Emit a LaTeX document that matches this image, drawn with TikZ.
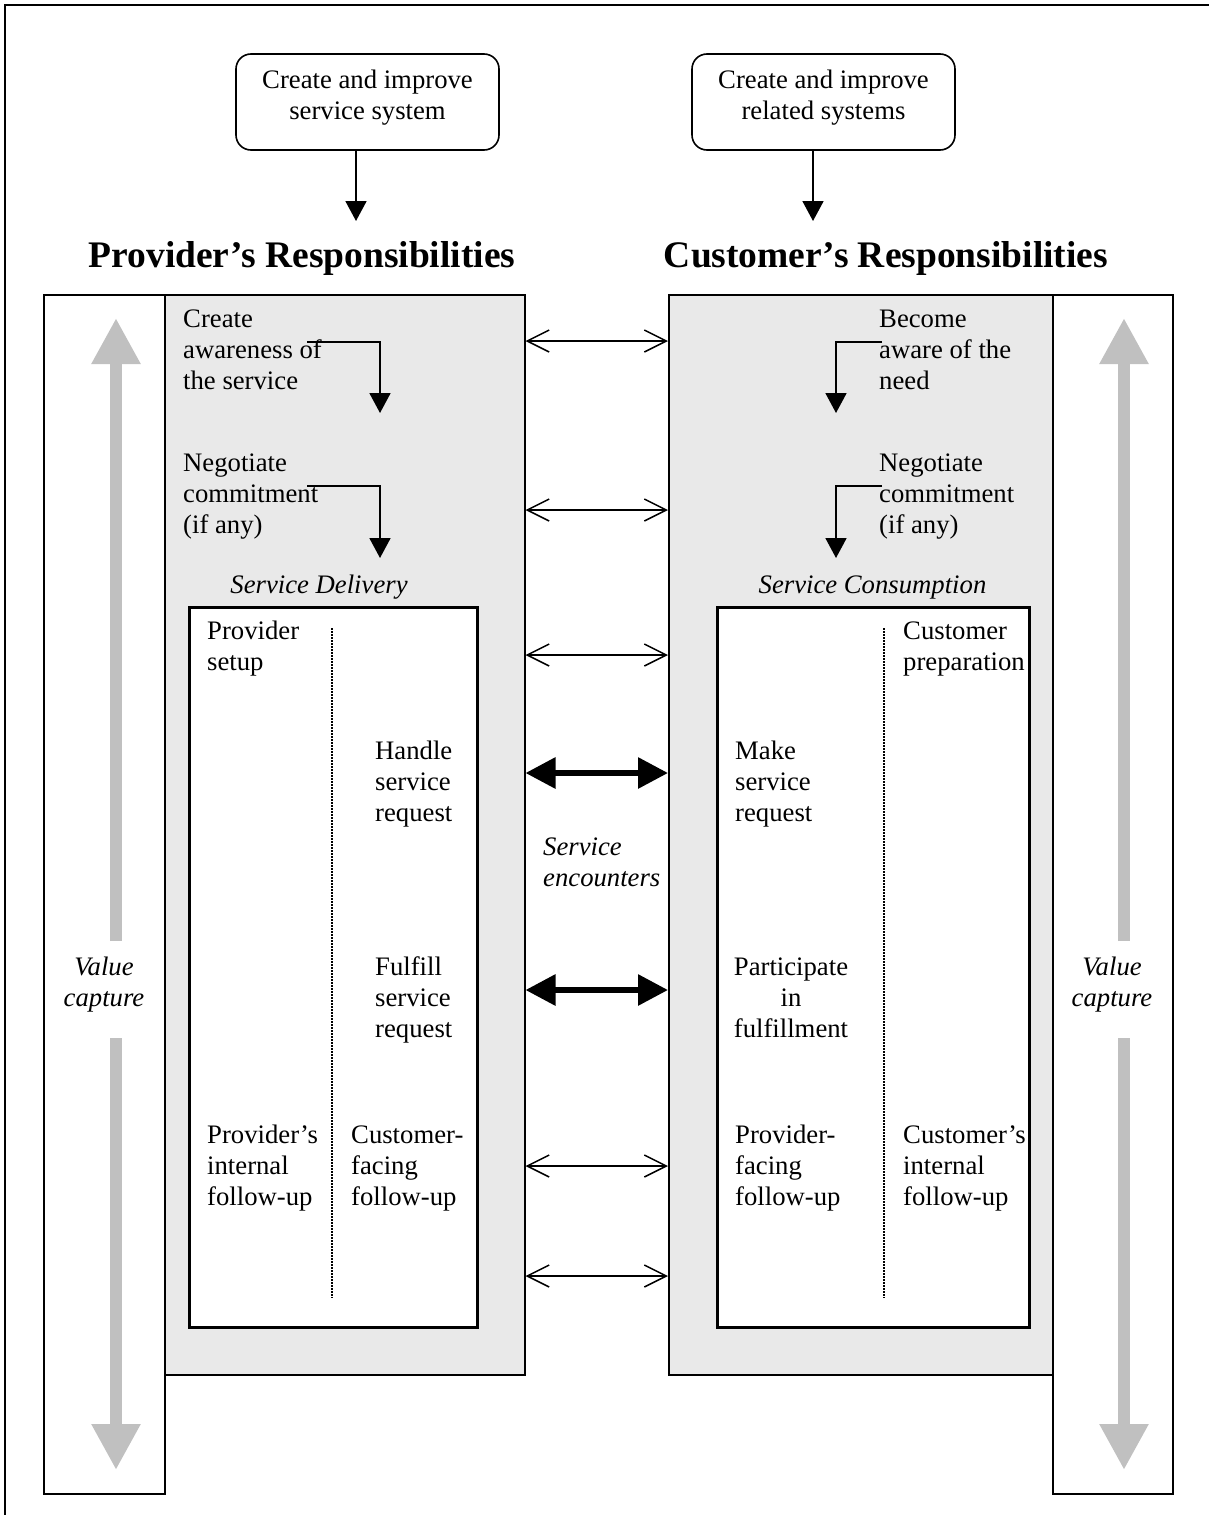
\documentclass[tikz,border=0pt]{standalone}
\usepackage{fontspec}
\setmainfont{Liberation Serif}
\usetikzlibrary{arrows.meta}
\definecolor{panel}{RGB}{233,233,233}
\definecolor{vgray}{RGB}{192,192,192}
\begin{document}
\begin{tikzpicture}[x=1pt,y=-1pt,
  txt/.style={font=\fontsize{26.7}{31}\selectfont, inner sep=0pt, align=left, anchor=north west},
  ctxt/.style={font=\fontsize{26.7}{31}\selectfont, inner sep=0pt, align=center, anchor=north},
  itxt/.style={font=\fontsize{26.7}{31}\selectfont\itshape, inner sep=0pt},
  head/.style={font=\fontsize{37.5}{45}\selectfont\bfseries, inner sep=0pt, anchor=base},
  topbox/.style={draw, line width=1.6pt, rounded corners=15pt, minimum width=263pt, minimum height=96pt, inner sep=0pt},
  panelbox/.style={draw, line width=1.5pt, fill=panel, inner sep=0pt, anchor=north west},
  valbox/.style={draw, line width=1.5pt, fill=white, inner sep=0pt, anchor=north west},
  innerbox/.style={draw, line width=3pt, fill=white, inner sep=0pt, anchor=north west},
  downarr/.style={line width=1.8pt, -{Triangle[length=20pt,width=21pt]}},
  thinarr/.style={line width=1.5pt, {Straight Barb[length=22pt,width=22pt]}-{Straight Barb[length=22pt,width=22pt]}},
  thickarr/.style={line width=6pt, {Triangle[length=30pt,width=30pt]}-{Triangle[length=30pt,width=30pt]}},
  grayarr/.style={line width=12pt, draw=vgray, -{Triangle[length=46pt,width=46pt,fill=vgray]}},
  dotline/.style={line width=1.5pt, dash pattern=on 1.5pt off 1.5pt}
]
\useasboundingbox (0,0) rectangle (1209,1515);
% outer frame
\draw[line width=2.5pt] (5,1530) -- (5,5) -- (1230,5);

% top boxes
\node[topbox] (sys) at (367.5,102) {};
\node[ctxt] (systxt) at (367.5,66.3) {\strut Create and improve\\service system};
\node[topbox] (rel) at (823.5,102) {};
\node[ctxt] (reltxt) at (823.5,66.3) {\strut Create and improve\\related systems};

% headings
\node[head] (phead) at (302,267) {Provider’s Responsibilities};
\node[head] (chead) at (886,267) {Customer’s Responsibilities};
\coordinate (pa) at (356,221);
\coordinate (ca) at (813,221);
\draw[downarr] (sys.south -| pa) -- (pa);
\draw[downarr] (rel.south -| ca) -- (ca);

% panels
\node[valbox, minimum width=121pt, minimum height=1199pt] (lval) at (43,294) {};
\node[panelbox, minimum width=360pt, minimum height=1080pt] (prov) at (164,294) {};
\node[panelbox, minimum width=384pt, minimum height=1080pt] (cust) at (668,294) {};
\node[valbox, minimum width=120pt, minimum height=1199pt] (rval) at (1052,294) {};
\node[innerbox, minimum width=288pt, minimum height=720pt] (pin) at (188,606) {};
\node[innerbox, minimum width=312pt, minimum height=720pt] (cin) at (716,606) {};

% dotted separators
\draw[dotline] (332,628) -- (332,1298);
\draw[dotline] (884,628) -- (884,1298);

% gray value capture arrows
\coordinate (lv1) at (116,941); \coordinate (lv2) at (116,318);
\coordinate (lv3) at (116,1038); \coordinate (lv4) at (116,1470);
\coordinate (rv1) at (1124,941); \coordinate (rv2) at (1124,318);
\coordinate (rv3) at (1124,1038); \coordinate (rv4) at (1124,1470);
\draw[grayarr] (lv1) -- (lv2);
\draw[grayarr] (lv3) -- (lv4);
\draw[grayarr] (rv1) -- (rv2);
\draw[grayarr] (rv3) -- (rv4);
\node[itxt, align=center, anchor=north] (lvt) at (104,954) {\strut Value\\capture};
\node[itxt, align=center, anchor=north] (rvt) at (1112,954) {\strut Value\\capture};

% provider texts
\node[txt] (p1) at (183,305.3) {\strut Create\\awareness of\\the service};
\node[txt] (p2) at (183,449.3) {\strut Negotiate\\commitment\\(if any)};
\node[itxt, anchor=base] (pd) at (319,593) {Service Delivery};
\node[txt] (p3) at (207,617.3) {\strut Provider\\setup};
\node[txt] (p4) at (375,737.3) {\strut Handle\\service\\request};
\node[txt] (p5) at (375,953.3) {\strut Fulfill\\service\\request};
\node[txt] (p6) at (207,1121.3) {\strut Provider’s\\internal\\follow-up};
\node[txt] (p7) at (351,1121.3) {\strut Customer-\\facing\\follow-up};

% customer texts
\node[txt] (c1) at (879,305.3) {\strut Become\\aware of the\\need};
\node[txt] (c2) at (879,449.3) {\strut Negotiate\\commitment\\(if any)};
\node[itxt, anchor=base] (cd) at (872.5,593) {Service Consumption};
\node[txt] (c3) at (903,617.3) {\strut Customer\\preparation};
\node[txt] (c4) at (735,737.3) {\strut Make\\service\\request};
\node[ctxt] (c5) at (791,953.3) {\strut Participate\\in\\fulfillment};
\node[txt] (c6) at (735,1121.3) {\strut Provider-\\facing\\follow-up};
\node[txt] (c7) at (903,1121.3) {\strut Customer’s\\internal\\follow-up};

% encounters label
\node[itxt, align=left, anchor=north west] (enc) at (543,833.3) {\strut Service\\encounters};

% bent arrows
\coordinate (pb1) at (307,342); \coordinate (pb2) at (380,413);
\coordinate (pb3) at (307,486); \coordinate (pb4) at (380,558);
\coordinate (cb1) at (882,342); \coordinate (cb2) at (836,413);
\coordinate (cb3) at (882,486); \coordinate (cb4) at (836,558);
\draw[downarr] (pb1) -| (pb2);
\draw[downarr] (pb3) -| (pb4);
\draw[downarr] (cb1) -| (cb2);
\draw[downarr] (cb3) -| (cb4);

% encounter arrows
\foreach \yy in {341,510,655,1166,1276}{
  \draw[thinarr] (prov.east |- 0,\yy) -- (cust.west |- 0,\yy);
}
\foreach \yy in {773,990}{
  \draw[thickarr] (prov.east |- 0,\yy) -- (cust.west |- 0,\yy);
}
\end{tikzpicture}
\end{document}
